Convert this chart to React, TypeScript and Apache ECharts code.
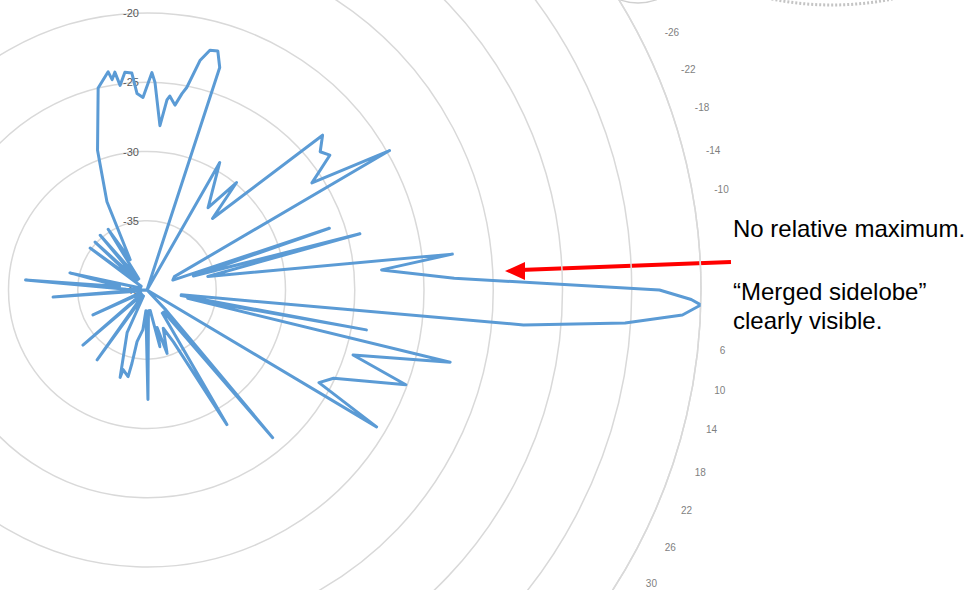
import { useEffect, useRef } from 'react';
import * as echarts from 'echarts';

// Pattern: angle in degrees (clockwise from east, as the angle labels read)
const angleDeg = [
  -180, -178, -175.3, -172.5, -167.5, -163, -147, -143.6, -140.5, -137.3, -134, -130.5, -126.5, -122.6, -119,
  -114.4, -109.5, -103.6, -100.1, -99.4, -98.4, -97.5, -95.8, -94.0, -92.9, -91.2, -88.7, -87.8, -85.5, -84.0,
  -83.3, -81.4, -79.9, -78.9, -77.0, -75.3, -73.5, -71.9, -67,
  -64, -60.3, -53.4, -50.2, -47.5, -41.4, -38.6, -36.4, -33.0, -29.9, -26,
  -21, -18.7, -16.8, -14.8, -12.5, -6.7, -4.9, -2.2, 0.0, 1.0, 1.55, 2.67, 3.94, 5.3, 8,
  9.2, 10.3, 11.5, 13.4, 17.5, 20.1, 25.3, 28.3, 30.8, 34,
  40, 46.5, 49.6, 52.5, 56.5, 59.3,
  63, 67, 72.4, 74.9, 77.2, 81, 86, 89.5, 93, 96, 100.9, 101.6, 102.3, 106.7, 107.1, 115,
  120, 125.5, 129, 135, 139.3, 143, 151, 155.2, 159, 171, 175.7, 178, 180,
];

// Relative gain in dB at each angle
const gainDb = [
  -40, -38.5, -31.2, -38, -34.3, -39.5, -39.5, -34.9, -39, -34.9, -39, -34.8, -39, -34.8, -37.5,
  -33.0, -29.3, -25.0, -24.0, -24.6, -24.1, -25.1, -24.2, -24.3, -25.8, -26.1, -24.3, -25.0, -28.1, -26.2,
  -25.9, -26.5, -25.6, -25.1, -23.0, -22.1, -22.0, -23.1, -40,
  -40, -29.4, -32.6, -29.9, -33.0, -23.1, -24.0, -23.6, -25.8, -19.8, -37.8,
  -38, -26.1, -36.5, -24.1, -35.5, -17.8, -23.0, -17.8, -3.0, -0.7, 0.0, -1.3, -5.4, -12.7, -37.5,
  -37.5, -23.9, -37, -17.5, -24.4, -20.1, -25.1, -25.9, -20.7, -40,
  -40, -38, -26.0, -38, -38, -28.7,
  -35.8, -37.0, -35.2, -37.2, -35.8, -38.5, -38.5, -32.1, -38.5, -37.1, -36.2, -34.6, -33.6, -34.0, -33.4, -36.6,
  -39.5, -33.8, -39.5, -39.5, -33.9, -39.5, -39.5, -35.7, -39.5, -39.5, -33.2, -39, -40,
];

// Axis scales
const radiusMin = -40;
const radiusMax = 0;
const radiusStep = 5;
const radiusLabelMax = -20; // rings beyond this lie above the picture
const angleMin = -90;
const angleMax = 270;
const angleStep = 4;
const angleLabelRange = [-26, 30]; // the part of the rim that is in the picture
const hiddenAngleLabels = [-6, -2, 2]; // covered by the annotation boxes

// Annotations
const noteLines = ['No relative maximum.', '\u201CMerged sidelobe\u201D', 'clearly visible.'];

export default function App() {
  const ref = useRef<HTMLDivElement>(null);

  useEffect(() => {
    if (!ref.current) return;
    const chart = echarts.init(ref.current, undefined, { renderer: 'svg' });

    const toAxisAngle = (a: number) => (a < angleMin ? a + 360 : a);
    const data = angleDeg.map((a, i) => [gainDb[i], toAxisAngle(a)]);

    const ringColor = '#d9d9d9';
    const noteStyle = { fontSize: 24, fontFamily: 'Liberation Sans', fill: '#000000', verticalAlign: 'middle' };

    chart.setOption({
      animation: false,
      backgroundColor: '#ffffff',
      polar: { center: [147, 290], radius: 554 },
      angleAxis: {
        type: 'value',
        min: angleMin,
        max: angleMax,
        interval: angleStep,
        startAngle: 90,
        clockwise: true,
        axisLine: { show: true, lineStyle: { color: ringColor, width: 1.5 } },
        axisTick: { show: false },
        splitLine: { show: false },
        axisLabel: {
          color: '#7f7f7f',
          fontSize: 10,
          fontFamily: 'Liberation Sans',
          margin: 22,
          align: 'left',
          verticalAlign: 'middle',
          formatter: (v: number) => {
            const d = v > 180 ? v - 360 : v;
            if (d < angleLabelRange[0] || d > angleLabelRange[1]) return '';
            if (hiddenAngleLabels.includes(d)) return '';
            return String(d);
          },
        },
      },
      radiusAxis: {
        type: 'value',
        min: radiusMin,
        max: radiusMax,
        interval: radiusStep,
        axisLine: { show: false },
        axisTick: { show: false },
        splitLine: { show: true, lineStyle: { color: ringColor, width: 1.5 } },
        axisLabel: {
          color: '#595959',
          fontSize: 11,
          fontFamily: 'Liberation Sans',
          margin: 8,
          showMinLabel: true,
          formatter: (v: number) => (v > radiusLabelMax ? '' : String(v)),
        },
        z: 1,
      },
      series: [
        {
          type: 'line',
          coordinateSystem: 'polar',
          data,
          symbol: 'none',
          lineStyle: { color: '#5b9bd5', width: 3, join: 'round' },
          z: 3,
        },
      ],
      graphic: [
        {
          type: 'arc',
          shape: { cx: 832, cy: -300, r: 305, startAngle: Math.PI / 2 - 0.24, endAngle: Math.PI / 2 + 0.24 },
          style: { stroke: '#c4c4c4', lineWidth: 3, lineDash: [2, 2], fill: 'none' },
        },
        {
          type: 'arc',
          shape: { cx: 638, cy: -52, r: 55, startAngle: Math.PI / 2 - 0.35, endAngle: Math.PI / 2 + 0.35 },
          style: { stroke: '#d0d0d0', lineWidth: 1.5, fill: 'none' },
        },
        {
          type: 'line',
          shape: { x1: 731, y1: 262, x2: 520, y2: 270 },
          style: { stroke: '#ff0000', lineWidth: 4 },
        },
        {
          type: 'polygon',
          shape: { points: [[505, 271], [525, 262], [525, 280]] },
          style: { fill: '#ff0000' },
        },
        { type: 'text', x: 733, y: 228, style: { text: noteLines[0], ...noteStyle } },
        { type: 'text', x: 733, y: 291, style: { text: noteLines[1], ...noteStyle } },
        { type: 'text', x: 733, y: 320, style: { text: noteLines[2], ...noteStyle } },
      ],
    });

    return () => chart.dispose();
  }, []);

  return (
    <div
      ref={ref}
      style={{ position: 'fixed', left: 0, top: 0, width: 971, height: 590, background: '#fff' }}
    />
  );
}
